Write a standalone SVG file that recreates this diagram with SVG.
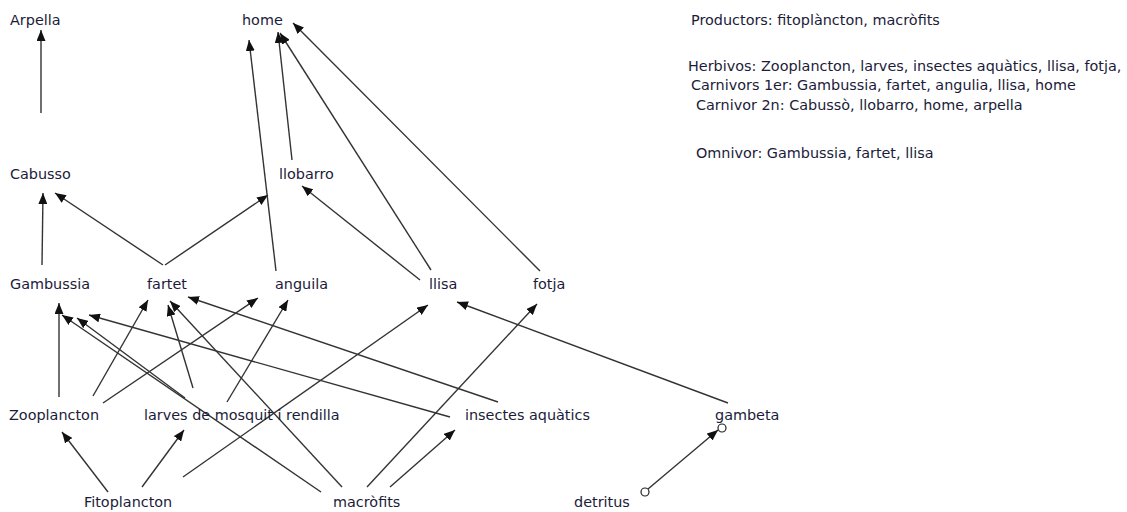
<svg xmlns="http://www.w3.org/2000/svg" width="1127" height="512" viewBox="0 0 1127 512">
<style>
text{font-family:"DejaVu Sans",Verdana,sans-serif;font-size:14.4px;fill:#1b1b3a}
.c line{stroke:#333;stroke-width:1.4;marker-end:url(#ah)}
.dot{fill:#fff;stroke:#222;stroke-width:1.2}
</style>
<defs>
<marker id="ah" markerUnits="userSpaceOnUse" markerWidth="12" markerHeight="9" refX="11" refY="4.5" orient="auto">
<path d="M0,0 L11,4.5 L0,9 z" fill="#111"/>
</marker>
</defs>
<rect width="1127" height="512" fill="#fff"/>
<g class="c" id="connectors">
<line x1="41" y1="113" x2="41" y2="30"/>
<line x1="42" y1="265" x2="43" y2="193"/>
<line x1="163" y1="265" x2="55" y2="193"/>
<line x1="165" y1="265" x2="268" y2="195"/>
<line x1="276" y1="271" x2="249" y2="40"/>
<line x1="292" y1="160" x2="278" y2="32"/>
<line x1="431" y1="270" x2="280" y2="33"/>
<line x1="540" y1="271" x2="293" y2="23"/>
<line x1="420" y1="280" x2="302" y2="186"/>
<line x1="59" y1="397" x2="59" y2="303"/>
<line x1="93" y1="396" x2="148" y2="300"/>
<line x1="103" y1="403" x2="258" y2="298"/>
<line x1="193" y1="388" x2="168" y2="305"/>
<line x1="342" y1="487" x2="170" y2="301"/>
<line x1="498" y1="402" x2="188" y2="297"/>
<line x1="227" y1="402" x2="288" y2="300"/>
<line x1="185" y1="398" x2="77" y2="318"/>
<line x1="321" y1="492" x2="62" y2="315"/>
<line x1="450" y1="417" x2="89" y2="315"/>
<line x1="108" y1="492" x2="62" y2="432"/>
<line x1="142" y1="487" x2="184" y2="430"/>
<line x1="183" y1="477" x2="428" y2="305"/>
<line x1="367" y1="487" x2="537" y2="304"/>
<line x1="390" y1="487" x2="455" y2="430"/>
<line x1="728" y1="403" x2="457" y2="302"/>
<line x1="648" y1="489" x2="718" y2="430"/>
<circle class="dot" cx="645" cy="492" r="4"/>
<circle class="dot" cx="722" cy="428" r="4"/>
</g>
<g id="arpella"><text x="10" y="25">Arpella</text></g>
<g id="home"><text x="242" y="25">home</text></g>
<g id="cabusso"><text x="10" y="179">Cabusso</text></g>
<g id="llobarro"><text x="279" y="179">llobarro</text></g>
<g id="gambussia"><text x="10" y="289">Gambussia</text></g>
<g id="fartet"><text x="147" y="289">fartet</text></g>
<g id="anguila"><text x="275" y="289">anguila</text></g>
<g id="llisa"><text x="429" y="289">llisa</text></g>
<g id="fotja"><text x="533" y="289">fotja</text></g>
<g id="zooplancton"><text x="9" y="420">Zooplancton</text></g>
<g id="larves"><text x="144" y="420">larves de mosquit i rendilla</text></g>
<g id="insectes"><text x="465" y="420">insectes aquàtics</text></g>
<g id="gambeta"><text x="715" y="420">gambeta</text></g>
<g id="fitoplancton"><text x="84" y="507">Fitoplancton</text></g>
<g id="macrofits"><text x="333" y="507">macròfits</text></g>
<g id="detritus"><text x="574" y="507">detritus</text></g>
<g id="legend">
<text x="691" y="25">Productors: fitoplàncton, macròfits</text>
<text x="688" y="71">Herbivos: Zooplancton, larves, insectes aquàtics, llisa, fotja,</text>
<text x="691" y="90">Carnivors 1er: Gambussia, fartet, angulia, llisa, home</text>
<text x="696" y="110">Carnivor 2n: Cabussò, llobarro, home, arpella</text>
<text x="696" y="158">Omnivor: Gambussia, fartet, llisa</text>
</g>
</svg>
